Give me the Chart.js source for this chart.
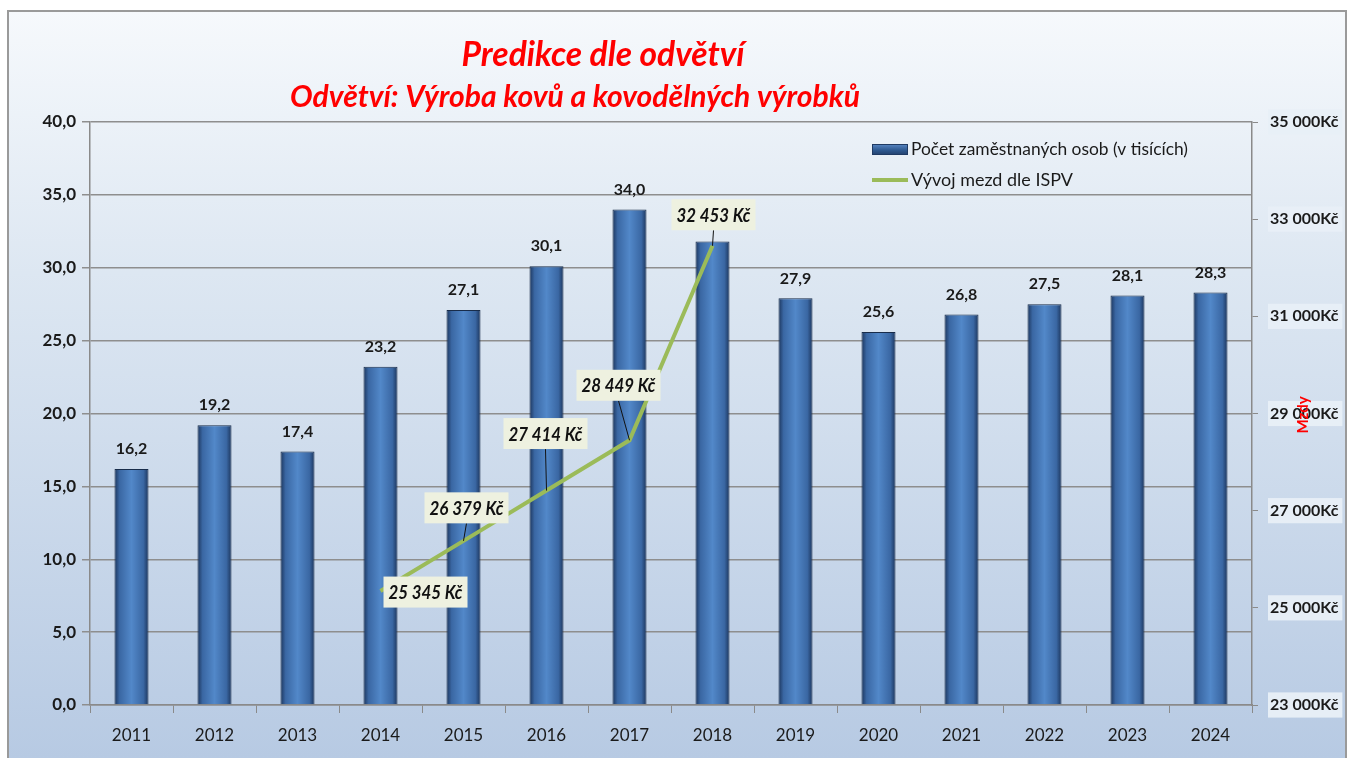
<!DOCTYPE html>
<html>
<head>
<meta charset="utf-8">
<script src="https://cdn.jsdelivr.net/npm/chart.js@4.4.1/dist/chart.umd.min.js"></script>
<style>
  html, body { margin: 0; padding: 0; background: #fff; }
  #wrap { width: 1354px; height: 758px; }
</style>
</head>
<body>
<div id="wrap"><canvas id="chart" width="1354" height="758"></canvas></div>
<script>
// data
const years = ['2011', '2012', '2013', '2014', '2015', '2016', '2017', '2018', '2019', '2020', '2021', '2022', '2023', '2024'];
const employees = [16.2, 19.2, 17.4, 23.2, 27.1, 30.1, 34.0, 31.8, 27.9, 25.6, 26.8, 27.5, 28.1, 28.3];
const showEmpLabel = [true, true, true, true, true, true, true, false, true, true, true, true, true, true];
const wages = [null, null, null, 25345, 26379, 27414, 28449, 32453, null, null, null, null, null, null];
const wageLabels = ['', '', '', '25 345 Kč', '26 379 Kč', '27 414 Kč', '28 449 Kč', '32 453 Kč', '', '', '', '', '', ''];
const leftTicks = [0, 5, 10, 15, 20, 25, 30, 35, 40];
const rightTicks = [23000, 25000, 27000, 29000, 31000, 33000, 35000];

// where the wage boxes sit relative to their point (dx, dy) - style only
const boxOffsets = [null, null, null, [45, 1], [3, -33], [-1, -57], [-11, -55], [1, -31]];

const FONT = 'Lato, "Open Sans", sans-serif';

function fmtCz(v) {
  return v.toFixed(1).replace('.', ',');
}
function fmtKc(v) {
  return String(v).replace(/\B(?=(\d{3})+(?!\d))/g, ' ') + 'Kč';
}

// pozadí a rámeček
const backgroundPlugin = {
  id: 'bg',
  beforeDraw(chart) {
    const ctx = chart.ctx;
    ctx.save();
    ctx.fillStyle = '#ffffff';
    ctx.fillRect(0, 0, chart.width, chart.height);
    const g = ctx.createLinearGradient(0, 11, 0, 758);
    g.addColorStop(0, '#f6f9fc');
    g.addColorStop(0.35, '#dde7f2');
    g.addColorStop(1, '#b7cae3');
    ctx.fillStyle = g;
    ctx.fillRect(8, 11, 1338, 760);
    ctx.strokeStyle = '#9a9a9a';
    ctx.lineWidth = 2;
    ctx.strokeRect(8, 11, 1338, 760);
    ctx.restore();
  }
};

// titulky, legenda, popisky
const textPlugin = {
  id: 'texts',
  afterDraw(chart) {
    const ctx = chart.ctx;
    ctx.save();

    // title
    ctx.fillStyle = '#ff0000';
    ctx.textBaseline = 'middle';
    ctx.textAlign = 'center';
    drawFitted(ctx, 'Predikce dle odvětví', 603, 55, 283, 'italic bold 34px ' + FONT);
    drawFitted(ctx, 'Odvětví: Výroba kovů a kovodělných výrobků', 575, 97, 570, 'italic bold 31px ' + FONT);

    // legend
    const lg = ctx.createLinearGradient(0, 144, 0, 156);
    lg.addColorStop(0, '#5a88c4');
    lg.addColorStop(0.5, '#2f5a92');
    lg.addColorStop(1, '#1f3a63');
    ctx.fillStyle = lg;
    ctx.fillRect(872, 144, 36, 11);
    ctx.strokeStyle = '#1f3a63';
    ctx.lineWidth = 1;
    ctx.strokeRect(872.5, 144.5, 35, 10);
    ctx.strokeStyle = '#9bbb59';
    ctx.lineWidth = 4;
    ctx.beginPath();
    ctx.moveTo(872, 180);
    ctx.lineTo(908, 180);
    ctx.stroke();
    ctx.fillStyle = '#1a1a1a';
    ctx.textAlign = 'left';
    drawFitted(ctx, 'Počet zaměstnaných osob (v tisících)', 911, 150, 277, '17px ' + FONT);
    drawFitted(ctx, 'Vývoj mezd dle ISPV', 911, 181, 162, '17px ' + FONT);

    // bar labels
    const barMeta = chart.getDatasetMeta(1);
    ctx.textAlign = 'center';
    ctx.font = 'bold 16px ' + FONT;
    ctx.fillStyle = '#1a1a1a';
    barMeta.data.forEach((bar, i) => {
      if (!showEmpLabel[i]) return;
      ctx.fillText(fmtCz(employees[i]), bar.x, bar.y - 20);
    });

    // wage labels with leader lines
    const lineMeta = chart.getDatasetMeta(0);
    lineMeta.data.forEach((pt, i) => {
      if (wages[i] === null || !boxOffsets[i]) return;
      const cx = pt.x + boxOffsets[i][0];
      const cy = pt.y + boxOffsets[i][1];
      const w = 84, h = 31;
      if (Math.abs(boxOffsets[i][1]) > h / 2) {
        ctx.strokeStyle = '#111';
        ctx.lineWidth = 1;
        ctx.beginPath();
        ctx.moveTo(cx, cy + h / 2);
        ctx.lineTo(pt.x, pt.y);
        ctx.stroke();
      }
      ctx.fillStyle = '#eef1e0';
      ctx.fillRect(cx - w / 2, cy - h / 2, w, h);
      ctx.fillStyle = '#111';
      drawFitted(ctx, wageLabels[i], cx, cy + 1, 74, 'italic bold 19px ' + FONT);
    });

    // right axis title
    ctx.translate(1303, 415);
    ctx.rotate(-Math.PI / 2);
    ctx.fillStyle = '#ff0000';
    ctx.font = 'bold 15px ' + FONT;
    ctx.fillText('Mzdy', 0, 0);
    ctx.restore();
  }
};

function drawFitted(ctx, text, x, y, width, font) {
  ctx.font = font;
  const m = ctx.measureText(text).width;
  ctx.save();
  ctx.translate(x, y);
  ctx.scale(width / m, 1);
  ctx.fillText(text, 0, 0);
  ctx.restore();
}

function barFill(context) {
  const chart = context.chart;
  if (!chart.chartArea) return '#4a7ab8';
  const x = chart.scales.x.getPixelForValue(context.dataIndex);
  const half = 17;
  const g = chart.ctx.createLinearGradient(x - half, 0, x + half, 0);
  g.addColorStop(0, '#1c355c');
  g.addColorStop(0.15, '#3a67a3');
  g.addColorStop(0.5, '#5288c9');
  g.addColorStop(0.85, '#3a67a3');
  g.addColorStop(1, '#1c355c');
  return g;
}

const ctx = document.getElementById('chart').getContext('2d');
new Chart(ctx, {
  data: {
    labels: years,
    datasets: [
      {
        type: 'line',
        label: 'Vývoj mezd dle ISPV',
        data: wages,
        yAxisID: 'y2',
        borderColor: '#9bbb59',
        borderWidth: 4,
        pointRadius: 0,
        tension: 0,
        spanGaps: false,
        order: 0
      },
      {
        type: 'bar',
        label: 'Počet zaměstnaných osob (v tisících)',
        data: employees,
        yAxisID: 'y',
        backgroundColor: barFill,
        borderColor: '#182c4a',
        borderWidth: 1,
        barPercentage: 0.41,
        categoryPercentage: 1.0,
        order: 1
      }
    ]
  },
  options: {
    responsive: false,
    animation: false,
    layout: { padding: { top: 122, left: 0, right: 0, bottom: 0 } },
    plugins: {
      legend: { display: false },
      tooltip: { enabled: false }
    },
    scales: {
      x: {
        offset: true,
        grid: { display: true, drawOnChartArea: false, offset: true, color: '#8a8a8a', tickLength: 8 },
        border: { color: '#8a8a8a', width: 1.5 },
        ticks: { color: '#1a1a1a', font: { family: FONT, size: 17 }, padding: 12 },
        afterFit(scale) { scale.height = 53; }
      },
      y: {
        position: 'left',
        min: 0,
        max: 40,
        afterBuildTicks(scale) { scale.ticks = leftTicks.map(v => ({ value: v })); },
        grid: { color: '#8e8e8e', lineWidth: 1.5, tickLength: 8 },
        border: { color: '#8a8a8a', width: 1.5 },
        ticks: {
          color: '#1a1a1a',
          font: { family: FONT, size: 17, weight: 'bold' },
          padding: 6,
          callback: v => fmtCz(v)
        },
        afterFit(scale) { scale.width = 90; }
      },
      y2: {
        position: 'right',
        min: 23000,
        max: 35000,
        afterBuildTicks(scale) { scale.ticks = rightTicks.map(v => ({ value: v })); },
        grid: { drawOnChartArea: false, color: '#8a8a8a', tickLength: 6 },
        border: { color: '#8a8a8a', width: 1.5 },
        ticks: {
          color: '#1a1a1a',
          font: { family: FONT, size: 16, weight: 'bold' },
          padding: 12,
          showLabelBackdrop: true,
          backdropColor: 'rgba(232,239,247,0.95)',
          backdropPadding: { left: 2, right: 4, top: 3, bottom: 3 },
          callback: v => fmtKc(v)
        },
        afterFit(scale) { scale.width = 102; }
      }
    }
  },
  plugins: [backgroundPlugin, textPlugin]
});
</script>
</body>
</html>
